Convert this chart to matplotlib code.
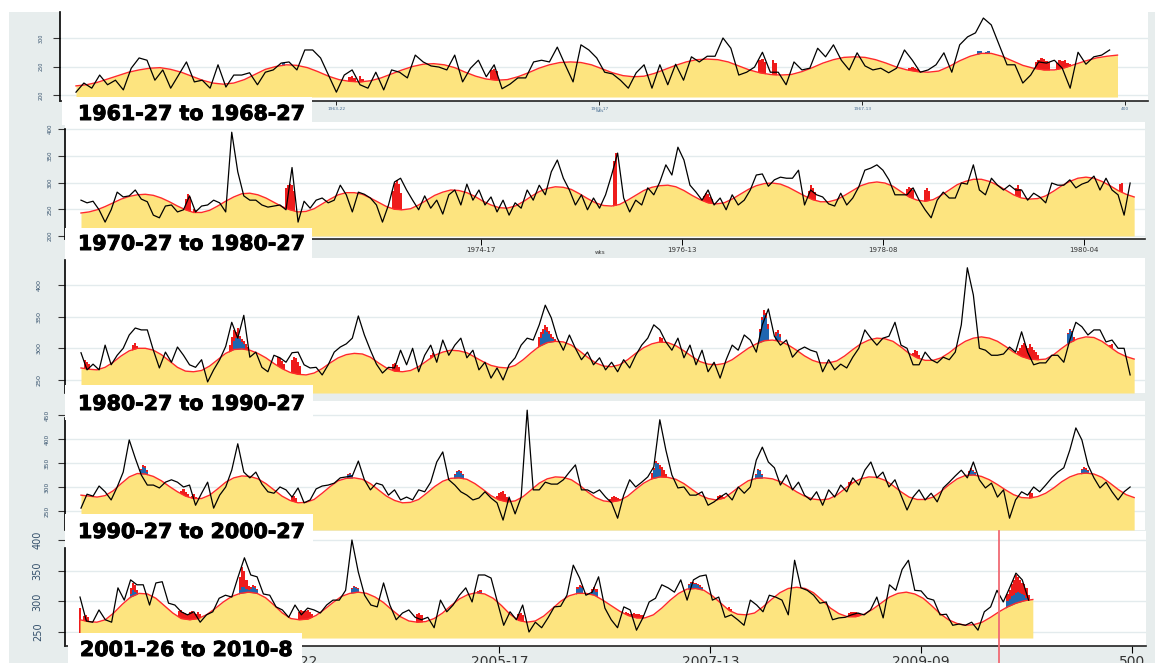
import numpy as np
import matplotlib
matplotlib.use("Agg")
import matplotlib.pyplot as plt
import matplotlib.patheffects as pe
from matplotlib.patches import Rectangle

# ---------------- data (weekly index, obs every 3 weeks, baseline every 4 weeks) ----------------
p1_title = "1961-27 to 1968-27"
p1_obs = [205, 221, 212, 235, 218, 226, 209, 247, 265, 261, 226, 244, 212, 235, 258, 223, 226, 212, 253, 214,
          235, 235, 239, 218, 240, 244, 256, 258, 244, 279, 279, 265, 235, 205, 235, 244, 218, 212, 240, 209,
          244, 240,
          230, 270, 258, 251, 249, 244, 270, 223, 247, 261, 232, 253, 211, 219, 230, 230, 258, 261, 258, 284,
          253, 223, 288, 279, 265, 240, 237, 226, 212, 239, 253, 212, 253, 218, 254, 226, 267, 258, 268, 268,
          300, 282, 235, 240, 249, 275, 240,
          240, 218, 258, 244, 247, 282, 267, 288, 261, 244, 274, 251, 244, 247, 239, 247, 279, 261, 240, 244,
          253, 274, 240, 288, 302, 309, 335, 323, 288, 253, 253, 221, 235, 258, 256, 261, 247, 212, 275, 254,
          267, 270, 279]
p1_base = [216, 218, 222, 228, 234, 240, 244, 247, 248, 245, 240, 233, 226, 221, 219, 221, 227, 236, 245, 250,
           253, 252, 248, 241, 233, 227, 224, 223, 225, 230, 237, 244, 250, 254, 255, 253, 248, 240, 233, 228,
           226, 227, 232, 239, 247, 253, 257, 258, 257, 253, 246, 239, 234, 232, 233, 238, 245, 252, 258, 262,
           263, 262, 258, 251, 244, 239, 236, 235, 236, 241, 248, 256, 262, 266, 267, 266, 262, 256, 249, 244,
           241, 240, 242, 250, 260, 268, 273, 273, 268, 260, 252, 247, 244, 244, 248, 254, 260, 265, 268, 270]
p1_red_weeks = [105, 106, 107, 109, 110, 159, 160, 161, 261, 262, 263, 266, 267, 318, 319, 320, 321,
                366, 367, 368, 369, 370, 371, 374, 375, 376, 377, 378, 379]
p1_red_top = [232, 234, 230, 233, 228, 244, 246, 242, 261, 264, 258, 261, 257, 247, 249, 248, 245,
              258, 262, 265, 263, 260, 258, 256, 261, 259, 262, 257, 255]
p1_blue_weeks = [80, 344, 345, 347, 348]
p1_blue_top = [256, 277, 278, 276, 277]
p1_xticks = [100, 200, 300, 400]
p1_xlabels = ["1963-22", "1965-17", "1967-13", "400"]
p1_yticks = [200, 250, 300]

p2_title = "1970-27 to 1980-27"
p2_obs = [267, 262, 265, 249, 226, 249, 282, 273, 275, 286, 269, 264, 239, 234, 256, 258, 245, 249, 275, 245,
          256, 258, 267, 262, 245, 394, 320, 275, 267, 267, 258, 254, 256, 258, 249, 328, 226, 265, 252, 267,
          271, 262, 267, 295, 277, 245, 282, 278, 271, 258, 226, 258, 301, 308,
          286, 267, 249, 275, 252, 267, 241, 277, 286, 258, 297, 267, 286, 258, 273, 245,
          267, 239, 262, 252, 286, 267, 295, 277, 320, 342, 308, 286, 258, 277, 249, 271, 252, 277, 314, 355,
          271, 245, 267, 258, 290, 277, 301, 333, 314, 366, 342, 295, 282, 267, 286, 258, 271, 249, 277, 258,
          267, 286,
          314, 316, 293, 305, 310, 308, 308, 323, 258, 286, 277, 273, 260, 256, 280, 258, 271, 292, 323, 327,
          333, 323, 305, 277, 277, 277, 290, 267, 249, 234, 267, 282, 271, 271, 299, 297, 333, 286, 277, 308,
          295, 286, 295, 286, 286, 267, 280, 273, 262, 299, 295, 295, 305, 290, 297, 301, 312, 286, 308, 286,
          277, 239, 299]
p2_base = [243, 245, 249, 255, 262, 269, 274, 277, 278, 276, 271, 264, 256, 249, 244, 244, 248, 256, 265, 273,
           279, 280, 277, 271, 263, 255, 249, 245, 246, 251, 260, 269, 277, 281, 281, 278, 271, 263, 255, 250,
           249, 251, 258, 267, 276, 282, 286, 285, 281, 274, 265, 258, 253, 252, 256, 264, 274, 283, 289, 292,
           291, 287, 279, 270, 262, 257, 256, 259, 267, 276, 285, 291, 294, 295, 292, 285, 276, 268, 262, 260,
           262, 269, 278, 287, 294, 298, 299, 297, 291, 283, 275, 268, 264, 264, 268, 276, 285, 294, 299, 301,
           299, 293, 283, 273, 267, 265, 268, 276, 286, 296, 302, 306, 306, 302, 295, 286, 277, 271, 269, 270,
           275, 284, 294, 302, 308, 310, 308, 302, 294, 285, 278, 273]
p2_red_weeks = [53, 54, 55, 57, 58, 103, 104, 105, 106, 107, 156, 157, 158, 159, 160, 266, 267,
                311, 312, 313, 314, 315, 363, 364, 365, 366, 412, 413, 414, 415, 421, 422, 423,
                466, 467, 468, 518, 519]
p2_red_top = [270, 278, 272, 250, 248, 290, 295, 298, 295, 285, 285, 300, 305, 298, 280, 340, 355,
              275, 280, 278, 272, 270, 285, 295, 290, 282, 288, 292, 290, 286, 286, 290, 284,
              290, 295, 288, 298, 299]
p2_blue_weeks = []
p2_blue_top = []
p2_xticks = [200, 300, 400, 500]
p2_xlabels = ["1974-17", "1976-13", "1978-08", "1980-04"]
p2_yticks = [200, 250, 300, 350, 400]

p3_title = "1980-27 to 1990-27"
p3_obs = [293, 266, 275, 266, 305, 274, 289, 300, 321, 332, 329, 329, 297, 269, 294, 278, 302, 289, 274, 270,
          282, 247, 266, 282, 303, 341, 316, 352, 286, 294, 270, 263, 289, 285, 278, 293, 294, 274, 269, 270,
          258, 274, 294, 302, 307, 316, 351, 321, 297, 275, 261, 270, 269, 297,
          274, 300, 263, 289, 305, 278, 313, 289, 305, 316, 285, 297, 266, 278, 253, 269, 250, 274, 285, 305,
          316, 313, 337, 368, 348, 316, 297, 321, 300, 282, 294, 274, 285, 266, 278, 263, 282, 269, 289, 305,
          316, 337, 329, 310, 297, 316, 285, 305, 274, 297, 263, 278, 253, 282, 305, 297, 321, 313,
          294, 337, 362, 319, 305, 313, 286, 297, 302, 297, 294, 263, 282, 266, 275, 269, 286, 300, 329, 316,
          305, 316, 319, 341, 305, 300, 274, 274, 294, 282, 277, 286, 282, 294, 337, 427, 384, 300, 297, 289,
          289, 291, 302, 294, 326, 294, 274, 277, 277, 289, 289, 278, 313, 341, 334, 321, 329, 329, 310, 313,
          300, 300, 258]
p3_base = [269, 267, 266, 270, 278, 288, 296, 300, 300, 297, 290, 280, 270, 264, 263, 265, 272, 282, 292, 298,
           299, 297, 292, 285, 276, 268, 262, 259, 258, 261, 268, 277, 285, 290, 292, 291, 286, 277, 269, 264,
           263, 265, 271, 280, 289, 294, 297, 296, 293, 286, 279, 273, 270, 269, 273, 282, 293, 303, 309, 311,
           310, 305, 296, 286, 277, 272, 271, 274, 282, 292, 301, 307, 310, 309, 304, 296, 287, 279, 275, 274,
           276, 282, 291, 300, 307, 312, 313, 311, 305, 297, 288, 281, 277, 277, 280, 288, 298, 307, 313, 316,
           315, 311, 302, 292, 285, 281, 281, 285, 293, 303, 311, 316, 318, 316, 311, 303, 294, 287, 283, 282,
           283, 290, 300, 309, 315, 318, 317, 311, 302, 293, 287, 283]
p3_red_weeks = [3, 4, 5, 27, 28, 29, 75, 76, 77, 78, 79, 80, 81, 82, 83, 84, 99, 100, 101, 102,
                106, 107, 108, 109, 110, 156, 157, 158, 159, 175, 176,
                229, 230, 231, 232, 233, 234, 235, 236, 237, 289, 290, 339, 340, 341, 342, 343, 347, 348, 349,
                415, 416, 417, 418, 467, 468, 469, 470, 471, 472, 473, 474, 475, 476, 477,
                492, 493, 494, 495, 513, 514]
p3_red_top = [281, 279, 276, 305, 308, 304, 305, 318, 329, 325, 332, 320, 315, 312, 306, 302, 286, 284, 280, 276,
              282, 286, 284, 278, 272, 275, 277, 274, 270, 290, 292,
              318, 325, 330, 337, 334, 328, 322, 318, 315, 318, 316, 330, 350, 360, 355, 338, 326, 329, 322,
              292, 297, 295, 290, 296, 300, 305, 308, 304, 300, 306, 302, 298, 294, 290,
              324, 330, 328, 318, 305, 306]
p3_blue_weeks = [77, 78, 79, 80, 81, 82, 230, 231, 232, 233, 234, 235, 236, 339, 340, 341, 342, 343,
                 347, 348, 349, 492, 493, 494]
p3_blue_top = [312, 316, 316, 314, 310, 306, 316, 322, 329, 326, 322, 317, 314, 325, 345, 352, 348, 330,
               320, 324, 318, 322, 329, 326]
p3_yticks = [250, 300, 350, 400]

p4_title = "1990-27 to 2000-27"
p4_obs = [256, 285, 281, 302, 290, 273, 300, 331, 398, 360, 325, 304, 304, 298, 310, 315, 310, 300, 304, 262,
          287, 310, 256, 283, 300, 335, 390, 331, 319, 331, 306, 290, 287, 300, 294, 279, 298, 267, 273, 296,
          302, 304, 308, 319, 321, 323, 354, 315, 294, 308, 304, 283, 294, 273,
          279, 273, 294, 290, 310, 352, 373, 315, 304, 290, 283, 273, 277, 290, 277, 267, 231, 279, 244, 279,
          460, 294, 294, 310, 306, 306, 315, 331, 346, 294, 294, 287, 294, 279, 267, 235, 283, 315, 300, 310,
          321, 342, 440, 377, 325, 298, 300, 283, 283, 290, 262, 269, 279, 287, 273, 300, 287, 300,
          356, 383, 352, 340, 304, 325, 294, 310, 283, 273, 290, 262, 294, 279, 304, 290, 319, 304, 335, 352,
          319, 331, 300, 315, 283, 252, 279, 294, 273, 287, 269, 298, 310, 323, 335, 319, 352, 315, 298, 308,
          279, 294, 235, 273, 290, 283, 300, 290, 304, 319, 331, 340, 377, 423, 398, 346, 319, 298, 310, 290,
          273, 290, 300]
p4_base = [283, 281, 279, 282, 292, 307, 321, 328, 327, 322, 313, 301, 290, 281, 276, 276, 283, 296, 310, 319,
           323, 322, 317, 307, 294, 281, 272, 267, 268, 274, 287, 301, 313, 318, 319, 316, 307, 294, 281, 272,
           267, 268, 274, 287, 301, 312, 318, 319, 316, 307, 295, 282, 273, 269, 271, 280, 294, 308, 317, 321,
           320, 315, 304, 290, 278, 271, 269, 272, 281, 295, 308, 317, 321, 320, 316, 307, 295, 283, 276, 273,
           277, 289, 302, 313, 318, 319, 317, 311, 301, 290, 281, 275, 273, 275, 283, 296, 309, 317, 321, 320,
           314, 303, 290, 279, 274, 274, 279, 291, 305, 317, 324, 325, 322, 315, 305, 294, 284, 278, 277, 280,
           287, 298, 311, 321, 327, 329, 327, 320, 308, 295, 284, 278]
p4_red_weeks = [31, 32, 33, 34, 51, 52, 53, 54, 56, 57, 58, 59, 106, 107, 108, 134, 135, 136,
                187, 188, 189, 190, 191, 208, 209, 210, 211, 212, 213, 214, 264, 265, 266, 267, 268, 269,
                285, 286, 287, 288, 289, 290, 291, 292, 318, 319, 320, 321, 337, 338, 339, 340,
                383, 384, 385, 443, 444, 445, 446, 473, 474, 499, 500, 501, 502]
p4_red_top = [338, 345, 343, 335, 292, 295, 290, 286, 282, 285, 280, 278, 280, 282, 278, 327, 329, 326,
              328, 334, 336, 333, 327, 282, 288, 290, 292, 286, 280, 275, 276, 279, 281, 279, 277, 276,
              330, 340, 354, 350, 346, 342, 335, 328, 281, 283, 282, 280, 327, 338, 336, 328,
              310, 312, 309, 333, 339, 336, 331, 290, 288, 338, 342, 340, 336]
p4_blue_weeks = [31, 32, 33, 34, 134, 135, 136, 187, 188, 189, 190, 191, 286, 287, 288, 289,
                 337, 338, 339, 340, 443, 444, 445, 446, 499, 500, 501, 502]
p4_blue_top = [335, 342, 340, 332, 325, 327, 324, 326, 331, 333, 330, 325, 335, 350, 347, 338,
               325, 335, 333, 326, 330, 336, 334, 329, 335, 338, 336, 333]
p4_yticks = [250, 300, 350, 400, 450]

p5_title = "2001-26 to 2010-8"
p5_obs = [307, 268, 266, 286, 270, 266, 322, 302, 335, 327, 327, 294, 330, 332, 297, 294, 283, 278, 283, 266,
          278, 283, 305, 310, 307, 340, 371, 343, 340, 312, 310, 291, 286, 274, 294, 278, 289, 286, 281, 294,
          302, 302, 318, 400, 348, 310, 294, 291, 330, 294, 270,
          281, 286, 274, 270, 274, 257, 302, 283, 294, 310, 322, 299, 343, 343, 338, 299, 261, 283, 270, 294,
          250, 266, 257, 273, 291, 292, 310, 359, 338, 310, 315, 340, 289, 270, 257, 291, 286, 253, 273, 299,
          305, 327, 322, 315, 335, 302, 335, 341, 343, 302, 307, 274, 278, 270, 261, 302, 294, 283, 310, 307,
          302, 278, 367, 322, 318, 310, 297, 299, 270, 273, 274, 278, 281, 278, 286, 307, 273, 327, 318, 352,
          367, 318, 317, 305, 302, 278, 279, 261, 263, 261, 266, 253, 283, 291, 318, 299, 322, 346, 335, 302]
p5_base = [270, 267, 266, 270, 281, 295, 307, 313, 312, 305, 293, 281, 272, 270, 272, 278, 288, 299, 308, 313,
           315, 313, 306, 294, 281, 272, 270, 271, 277, 287, 298, 308, 313, 315, 313, 307, 298, 286, 275, 268,
           266, 267, 272, 281, 293, 304, 311, 314, 312, 305, 293, 279, 269, 266, 268, 276, 288, 300, 309, 313,
           313, 310, 302, 293, 284, 277, 273, 273, 278, 289, 302, 313, 320, 321, 318, 309, 297, 285, 279, 278,
           281, 291, 303, 314, 321, 323, 321, 314, 302, 289, 280, 275, 275, 279, 287, 297, 307, 313, 315, 312,
           305, 293, 280, 270, 264, 261, 262, 266, 274, 283, 291, 297, 301, 303]
p5_red_weeks = [1, 3, 4, 5, 25, 26, 27, 28, 48, 49, 50, 51, 52, 53, 54, 55, 56, 57, 58,
                77, 78, 79, 80, 81, 82, 83, 84, 85, 105, 106, 107, 108, 109, 110, 111, 130, 131, 132, 133,
                161, 162, 163, 190, 191, 209, 210, 211, 237, 238, 239, 244, 245, 246,
                257, 258, 259, 260, 261, 262, 263, 264, 265, 266, 267, 268,
                290, 291, 292, 293, 294, 295, 296, 308, 309, 310, 366, 367, 368, 369, 370, 371,
                441, 442, 443, 444, 445, 446, 447, 448, 449, 450, 451]
p5_red_top = [289, 276, 278, 275, 322, 330, 326, 318, 284, 286, 283, 281, 280, 282, 284, 281, 279, 282, 280,
              340, 356, 350, 335, 325, 324, 327, 325, 320, 282, 286, 285, 284, 286, 283, 280, 322, 325, 324, 321,
              279, 281, 278, 317, 318, 279, 281, 278, 324, 327, 325, 320, 323, 320,
              283, 281, 280, 282, 281, 280, 279, 281, 280, 279, 278, 277,
              328, 332, 331, 330, 328, 326, 324, 289, 291, 288, 281, 283, 282, 283, 281, 279,
              312, 318, 328, 335, 343, 340, 335, 330, 328, 322, 310]
p5_blue_weeks = [25, 26, 27, 28, 77, 78, 79, 80, 81, 82, 83, 84, 85, 130, 131, 132, 133, 190, 191,
                 237, 238, 239, 244, 245, 246, 290, 291, 292, 293, 294, 295, 296,
                 441, 442, 443, 444, 445, 446, 447, 448, 449, 450, 451]
p5_blue_top = [312, 318, 316, 314, 318, 323, 323, 320, 318, 320, 323, 321, 318, 320, 323, 322, 320, 315, 316,
               320, 323, 321, 315, 318, 316, 326, 330, 329, 328, 326, 324, 322,
               300, 304, 308, 311, 313, 315, 314, 312, 310, 306, 302]
p5_xticks = [100, 200, 300, 400, 500]
p5_xlabels = ["2003-22", "2005-17", "2007-13", "2009-09", "500"]
p5_yticks = [250, 300, 350, 400]
cutoff_week = 437

# ---------------- style ----------------
W, H = 1155, 663
GRAY = "#e7eded"
YELLOW = "#fde47f"
RED_LINE = "#ff2a2a"
RED_FILL = "#ee1c1c"
BLUE = "#1f66b0"
GRID = "#e3ebed"
TICKCOL = "#34506b"

fig = plt.figure(figsize=(W / 100, H / 100), dpi=100, facecolor=GRAY)


def frac(x0, y0, x1, y1):
    return [x0 / W, 1 - y1 / H, (x1 - x0) / W, (y1 - y0) / H]


def fig_rect(x0, y0, x1, y1, color, z):
    fig.add_artist(Rectangle((x0 / W, 1 - y1 / H), (x1 - x0) / W, (y1 - y0) / H,
                             transform=fig.transFigure, facecolor=color, edgecolor="none", zorder=z))


fig_rect(0, 0, W, 12, "white", -5)
fig_rect(0, 0, 9, H, "white", -5)


def panel(box, xlim, ylim, floor, obs, base, red_w, red_t, blue_w, blue_t,
          yticks, yfs, ypad, spine_top):
    ax = fig.add_axes(frac(*box))
    ax.set_facecolor("white")
    obs_x = 1 + 3 * np.arange(len(obs))
    base_x = 1 + 4 * np.arange(len(base))
    if len(red_w):
        ax.bar(red_w, np.array(red_t) - floor, bottom=floor, width=1.0, color=RED_FILL, lw=0, zorder=2)
    if len(blue_w):
        ax.bar(blue_w, np.array(blue_t) - floor, bottom=floor, width=1.0, color=BLUE, lw=0, zorder=2.5)
    ax.fill_between(base_x, floor, base, color=YELLOW, lw=0, zorder=3)
    ax.plot(base_x, base, color=RED_LINE, lw=1.0, zorder=4)
    ax.plot(obs_x, obs, color="black", lw=0.9, zorder=5)
    ax.set_xlim(*xlim)
    ax.set_ylim(*ylim)
    ax.set_yticks(yticks)
    ax.set_yticklabels([str(t) for t in yticks], rotation=90, va="center", fontsize=yfs, color=TICKCOL)
    ax.tick_params(axis="y", length=5, width=0.8, color="#333333", pad=ypad)
    ax.yaxis.grid(True, color=GRID, lw=1.0)
    ax.set_axisbelow(True)
    for s in ("top", "right"):
        ax.spines[s].set_visible(False)
    ax.spines["left"].set_color("black")
    ax.spines["left"].set_linewidth(1.2)
    ax.spines["left"].set_bounds(ylim[0], spine_top)
    ax.spines["bottom"].set_color("#222222")
    ax.spines["bottom"].set_linewidth(1.2)
    return ax


# panel 1
ax1 = panel((60, 12, 1148, 101), (-5.08, 408.6), (189.5, 345.6), 196.5, p1_obs, p1_base,
            p1_red_weeks, p1_red_top, p1_blue_weeks, p1_blue_top, p1_yticks, 3.5, 7, 345.6)
ax1.set_xticks(p1_xticks)
ax1.set_xticklabels(p1_xlabels, fontsize=3.2, color="#4a6f94")
ax1.tick_params(axis="x", length=3, width=0.6, pad=1.5)

# panel 2
ax2 = panel((65, 122, 1145, 239), (-6.96, 530.4), (194.4, 413.1), 200, p2_obs, p2_base,
            p2_red_weeks, p2_red_top, p2_blue_weeks, p2_blue_top, p2_yticks, 4, 4, 400)
ax2.set_xticks(p2_xticks)
ax2.set_xticklabels(p2_xlabels, fontsize=5, color="#333333")
ax2.tick_params(axis="x", length=4, width=0.7, pad=1.5)

# panel 3
ax3 = panel((65, 258, 1145, 393), (-6.96, 530.4), (229.5, 442.4), 229.5, p3_obs, p3_base,
            p3_red_weeks, p3_red_top, p3_blue_weeks, p3_blue_top, p3_yticks, 4.6, 12, 439)
ax3.set_xticks([])
ax3.spines["bottom"].set_visible(False)

# panel 4
ax4 = panel((65, 401, 1145, 530), (-6.96, 530.4), (210.4, 479.1), 210.4, p4_obs, p4_base,
            p4_red_weeks, p4_red_top, p4_blue_weeks, p4_blue_top, p4_yticks, 4.2, 6, 444)
ax4.set_xticks([])
ax4.spines["bottom"].set_visible(False)

# panel 5
ax5 = panel((65, 531, 1146, 646), (-6.12, 506.7), (227.2, 414.7), 240.2, p5_obs, p5_base,
            p5_red_weeks, p5_red_top, p5_blue_weeks, p5_blue_top, p5_yticks, 7, 11, 387)
ax5.set_xticks(p5_xticks)
ax5.set_xticklabels(p5_xlabels, fontsize=10, color="#333333")
ax5.tick_params(axis="x", length=5, width=0.8, pad=1.5)
ax5.axvline(cutoff_week, ymin=-0.148, ymax=1.0, color="#f06a74", lw=1.3, clip_on=False, zorder=6)

# axis captions under the tiny tick labels
fig.text(600 / W, 1 - 111 / H, "wks", fontsize=3.2, color="#4a6f94", ha="center", va="center")
fig.text(600 / W, 1 - 253 / H, "wks", fontsize=4, color="#333333", ha="center", va="center")

# period labels in white boxes
boxes = [((62, 97, 312, 125), 78, 114, p1_title),
         ((65, 228, 312, 258), 78, 244, p2_title),
         ((65, 385, 313, 420), 78, 404, p3_title),
         ((65, 514, 313, 545), 78, 532, p4_title),
         ((68, 633, 302, 663), 80, 650, p5_title)]
for (bx0, by0, bx1, by1), tx, ty, txt in boxes:
    fig_rect(bx0, by0, bx1, by1, "white", 10)
    fig.text(tx / W, 1 - ty / H, txt, fontsize=14.8, fontweight="bold", color="black",
             ha="left", va="center", zorder=11,
             path_effects=[pe.withStroke(linewidth=0.7, foreground="black")])

fig.savefig("out.png", dpi=100, facecolor=GRAY)
